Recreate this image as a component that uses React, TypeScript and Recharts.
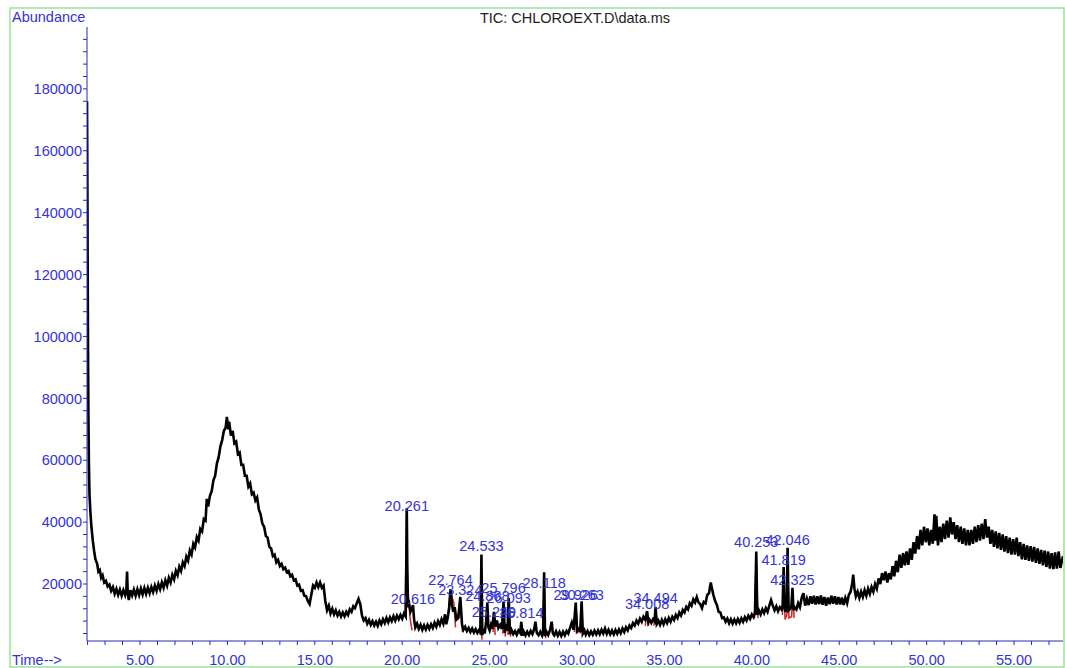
import React from "react";
import { ComposedChart, Line, Scatter, XAxis, YAxis } from "recharts";

// Total ion chromatogram trace: [retention time (min), abundance]
const tracePoints: [number, number][] = [
  [1.97, 176000], [1.99, 150000], [2.01, 118000], [2.03, 92000], [2.05, 74000], [2.08, 58000],
  [2.11, 49000], [2.16, 43500], [2.22, 38500], [2.3, 34000], [2.38, 30500], [2.45, 28000],
  [2.55, 26500], [2.62, 24000], [2.7, 24500], [2.78, 22000], [2.86, 22800], [2.95, 20500],
  [3.05, 21000], [3.15, 19200], [3.25, 19800], [3.35, 17800], [3.45, 19000], [3.55, 16800],
  [3.65, 18400], [3.75, 16500], [3.85, 18200], [3.95, 16200], [4.05, 18000], [4.15, 16400],
  [4.22, 18200], [4.26, 24000], [4.3, 17000], [4.36, 14800], [4.45, 18000], [4.55, 16300],
  [4.65, 18200], [4.75, 16200], [4.85, 18300], [4.95, 16400], [5.05, 18500], [5.15, 16600],
  [5.25, 18700], [5.35, 16800], [5.45, 18800], [5.55, 17000], [5.65, 19000], [5.75, 17400],
  [5.85, 19500], [5.95, 17800], [6.05, 20000], [6.15, 18300], [6.25, 20500], [6.35, 18800],
  [6.45, 21200], [6.55, 19500], [6.65, 22000], [6.75, 20500], [6.85, 23000], [6.95, 21500],
  [7.05, 24200], [7.15, 22800], [7.25, 25600], [7.35, 24200], [7.45, 27000], [7.55, 25800],
  [7.65, 28800], [7.75, 27500], [7.85, 30800], [7.95, 29500], [8.05, 33000], [8.15, 31800],
  [8.25, 35200], [8.35, 34000], [8.45, 37800], [8.55, 37000], [8.65, 41000], [8.75, 40500],
  [8.82, 47500], [8.9, 45000], [9.0, 48500], [9.1, 50000], [9.2, 53500], [9.3, 55000],
  [9.4, 59000], [9.5, 61000], [9.6, 64500], [9.7, 66500], [9.8, 69500], [9.9, 70500],
  [9.97, 74000], [10.05, 70000], [10.1, 72500], [10.2, 68000], [10.3, 69500], [10.4, 65500],
  [10.5, 66000], [10.6, 62000], [10.7, 62500], [10.8, 58500], [10.9, 58500], [11.0, 55000],
  [11.1, 55000], [11.2, 51500], [11.3, 52500], [11.4, 49000], [11.5, 49500], [11.6, 47000],
  [11.7, 48000], [11.8, 44000], [11.9, 42500], [12.0, 39500], [12.1, 38500], [12.2, 35500],
  [12.3, 35000], [12.4, 32000], [12.5, 31500], [12.6, 29000], [12.7, 29500], [12.8, 27000],
  [12.9, 27800], [13.0, 25800], [13.1, 26500], [13.2, 24800], [13.3, 25300], [13.4, 23800],
  [13.5, 24200], [13.6, 22500], [13.7, 23000], [13.8, 21200], [13.9, 21500], [14.0, 19500],
  [14.1, 19800], [14.2, 17800], [14.3, 18000], [14.4, 16200], [14.5, 16000], [14.6, 14500],
  [14.7, 13500], [14.8, 16500], [14.9, 19500], [15.0, 18800], [15.1, 20500], [15.2, 19000],
  [15.3, 20500], [15.4, 18800], [15.5, 19500], [15.6, 14500], [15.7, 11500], [15.8, 13000],
  [15.9, 10500], [16.0, 12000], [16.1, 10200], [16.2, 11500], [16.3, 9800], [16.4, 11000],
  [16.5, 9500], [16.6, 10800], [16.7, 9600], [16.8, 11000], [16.9, 10000], [17.0, 11800],
  [17.1, 11000], [17.2, 12800], [17.3, 12200], [17.4, 13800], [17.5, 15200], [17.6, 13500],
  [17.7, 9800], [17.8, 8200], [17.9, 9000], [18.0, 7200], [18.1, 8400], [18.2, 6800],
  [18.3, 8000], [18.4, 6600], [18.5, 7800], [18.6, 6500], [18.7, 8200], [18.8, 7000],
  [18.9, 8600], [19.0, 7400], [19.1, 9000], [19.2, 7600], [19.3, 9200], [19.4, 8000],
  [19.5, 9600], [19.6, 8200], [19.7, 9800], [19.8, 8600], [19.9, 10000], [20.0, 8800],
  [20.1, 10500], [20.2, 9500], [20.24, 30000], [20.261, 44500], [20.29, 26000], [20.33, 12500],
  [20.4, 13500], [20.47, 11000], [20.55, 12000], [20.616, 13200], [20.68, 8500], [20.75, 6000],
  [20.85, 7200], [20.95, 5500], [21.05, 6800], [21.15, 5200], [21.25, 6600], [21.35, 5300],
  [21.45, 6800], [21.55, 5500], [21.65, 7000], [21.75, 5800], [21.85, 7500], [21.95, 6200],
  [22.05, 8000], [22.15, 6800], [22.25, 8600], [22.35, 7200], [22.45, 10200], [22.52, 7000],
  [22.6, 9000], [22.68, 12000], [22.764, 18200], [22.84, 13500], [22.92, 11000], [23.0, 12500],
  [23.1, 8500], [23.2, 9000], [23.324, 15800], [23.42, 7000], [23.5, 5200], [23.6, 6200],
  [23.7, 4800], [23.8, 5800], [23.9, 4500], [24.0, 5600], [24.1, 4300], [24.2, 5400],
  [24.3, 4200], [24.4, 5200], [24.47, 4500], [24.533, 29500], [24.58, 3500], [24.65, 5500],
  [24.72, 4000], [24.8, 8000], [24.868, 14000], [24.93, 6000], [25.0, 5000], [25.08, 6800],
  [25.15, 5500], [25.249, 11000], [25.33, 6200], [25.42, 8200], [25.5, 5800], [25.6, 6800],
  [25.7, 5500], [25.796, 14300], [25.86, 4200], [25.95, 6000], [26.02, 5000], [26.093, 15500],
  [26.16, 3800], [26.25, 5200], [26.35, 3800], [26.45, 4800], [26.55, 3600], [26.65, 5000],
  [26.75, 4200], [26.814, 7800], [26.88, 3300], [26.95, 4600], [27.05, 3400], [27.15, 4600],
  [27.25, 3500], [27.35, 4800], [27.45, 3800], [27.55, 5500], [27.62, 7800], [27.7, 4200],
  [27.8, 3500], [27.9, 4600], [28.0, 3400], [28.06, 4800], [28.118, 23800], [28.17, 3200],
  [28.25, 4600], [28.35, 3500], [28.45, 5000], [28.55, 7800], [28.62, 4000], [28.7, 3400],
  [28.8, 4700], [28.9, 3300], [29.0, 4500], [29.1, 3200], [29.2, 4600], [29.3, 3400],
  [29.4, 4800], [29.5, 4000], [29.6, 5800], [29.7, 7500], [29.8, 5200], [29.926, 14000],
  [30.0, 4800], [30.1, 5500], [30.18, 4500], [30.263, 14400], [30.33, 4000], [30.42, 5000],
  [30.5, 3600], [30.6, 4800], [30.7, 3500], [30.8, 4700], [30.9, 3600], [31.0, 4900],
  [31.1, 3700], [31.2, 5000], [31.3, 3800], [31.4, 5200], [31.5, 4000], [31.6, 5600],
  [31.7, 3900], [31.8, 5200], [31.9, 3800], [32.0, 5000], [32.1, 3700], [32.2, 5100],
  [32.3, 3900], [32.4, 5300], [32.5, 4100], [32.6, 5600], [32.7, 4500], [32.8, 6000],
  [32.9, 5000], [33.0, 6600], [33.1, 5800], [33.2, 7400], [33.3, 6600], [33.4, 8200],
  [33.5, 7200], [33.6, 8800], [33.7, 7800], [33.8, 9400], [33.9, 8500], [34.008, 11200],
  [34.08, 7600], [34.15, 8400], [34.25, 7400], [34.35, 8600], [34.43, 8000], [34.494, 12500],
  [34.56, 7200], [34.65, 8200], [34.75, 6800], [34.85, 8400], [34.95, 7000], [35.05, 8600],
  [35.15, 7400], [35.25, 9000], [35.35, 7800], [35.45, 9400], [35.55, 8400], [35.65, 10000],
  [35.75, 9000], [35.85, 10800], [35.95, 9800], [36.05, 11600], [36.15, 10800], [36.25, 12600],
  [36.35, 11800], [36.45, 13800], [36.55, 13000], [36.65, 15000], [36.75, 14000], [36.85, 15800],
  [36.95, 14000], [37.05, 13500], [37.15, 12200], [37.25, 14200], [37.35, 13800], [37.45, 16500],
  [37.55, 17000], [37.65, 20500], [37.72, 18500], [37.8, 16500], [37.9, 14500], [38.0, 13200],
  [38.1, 11000], [38.2, 10800], [38.3, 9000], [38.4, 9200], [38.5, 7800], [38.6, 8800],
  [38.7, 7300], [38.8, 8600], [38.9, 7200], [39.0, 8500], [39.1, 7300], [39.2, 8700],
  [39.3, 7500], [39.4, 8900], [39.5, 7800], [39.6, 9300], [39.7, 8200], [39.8, 9700],
  [39.9, 8700], [40.0, 10200], [40.1, 9300], [40.18, 10800], [40.253, 30500], [40.31, 10000],
  [40.4, 11500], [40.5, 10200], [40.6, 11800], [40.7, 10600], [40.8, 12200], [40.9, 11000],
  [41.0, 13000], [41.1, 14800], [41.2, 13000], [41.3, 11500], [41.4, 12800], [41.5, 11200],
  [41.6, 12500], [41.7, 11800], [41.76, 13000], [41.819, 25500], [41.87, 12000], [41.93, 11000],
  [42.0, 14000], [42.046, 31700], [42.1, 11500], [42.2, 12000], [42.26, 12800], [42.325, 18800],
  [42.38, 11500], [42.45, 12500], [42.55, 11800], [42.65, 13800], [42.75, 12500], [42.85, 15500],
  [42.95, 17000], [43.05, 13000], [43.15, 15200], [43.25, 13200], [43.35, 16000], [43.45, 13600],
  [43.55, 16200], [43.65, 13400], [43.75, 16000], [43.85, 13500], [43.95, 16300], [44.05, 13300],
  [44.15, 15800], [44.25, 13000], [44.35, 15600], [44.45, 13500], [44.55, 16200], [44.65, 13600],
  [44.75, 16000], [44.85, 13400], [44.95, 15800], [45.05, 13400], [45.15, 15600], [45.25, 13200],
  [45.35, 15500], [45.45, 13800], [45.55, 16500], [45.65, 17500], [45.75, 20500], [45.8, 23000],
  [45.87, 18500], [45.95, 16000], [46.05, 17500], [46.15, 15500], [46.25, 17500], [46.35, 15800],
  [46.45, 18000], [46.55, 16200], [46.65, 18500], [46.75, 16800], [46.85, 19000], [46.95, 17500],
  [47.05, 20000], [47.15, 18500], [47.25, 21800], [47.35, 20000], [47.45, 23500], [47.55, 21200],
  [47.65, 24000], [47.75, 20500], [47.85, 23500], [47.95, 21500], [48.05, 25800], [48.15, 22500],
  [48.25, 27500], [48.35, 23800], [48.45, 29500], [48.55, 25200], [48.65, 30000], [48.75, 26000],
  [48.85, 30500], [48.95, 26200], [49.05, 31500], [49.15, 27800], [49.25, 33500], [49.35, 29800],
  [49.45, 35500], [49.55, 31200], [49.65, 37500], [49.75, 32500], [49.85, 38500], [49.95, 33500],
  [50.05, 38000], [50.15, 32500], [50.25, 37500], [50.35, 33000], [50.45, 42500], [50.5, 34000],
  [50.55, 42000], [50.65, 32500], [50.75, 38500], [50.85, 33500], [50.95, 39500], [51.05, 34500],
  [51.15, 40500], [51.25, 35000], [51.35, 41500], [51.45, 36000], [51.55, 40000], [51.65, 34500],
  [51.75, 39000], [51.85, 33500], [51.95, 38500], [52.05, 33000], [52.15, 38000], [52.25, 32500],
  [52.35, 37500], [52.45, 32500], [52.55, 37500], [52.65, 33000], [52.75, 38500], [52.85, 33500],
  [52.95, 39000], [53.05, 34000], [53.15, 39500], [53.25, 34500], [53.35, 41000], [53.45, 35000],
  [53.55, 38500], [53.65, 33000], [53.75, 37500], [53.85, 32000], [53.95, 37000], [54.05, 31500],
  [54.15, 36500], [54.25, 31000], [54.35, 36000], [54.45, 30500], [54.55, 35500], [54.65, 30000],
  [54.75, 35000], [54.85, 29500], [54.95, 34500], [55.05, 29500], [55.15, 35000], [55.25, 29000],
  [55.35, 33500], [55.45, 28000], [55.55, 33000], [55.65, 27800], [55.75, 32500], [55.85, 27500],
  [55.95, 32200], [56.05, 27200], [56.15, 32000], [56.25, 26800], [56.35, 31500], [56.45, 26500],
  [56.55, 31000], [56.65, 26000], [56.75, 30800], [56.85, 25500], [56.95, 30500], [57.05, 25000],
  [57.15, 30000], [57.25, 24800], [57.35, 30200], [57.45, 25000], [57.55, 30500], [57.65, 25200],
  [57.8, 29000],
];

// Integrated peak outlines (red); null separates peaks
const integratedPeaks: [number, number | null][] = [
  [20.17, 10500], [20.245, 44000], [20.3, 20000], [20.45, 9000], [20.56, 5000], [20.6, null],
  [22.62, 9500], [22.74, 18000], [22.95, 14000], [23.05, 6000], [23.1, null],
  [23.25, 9000], [23.32, 15000], [23.45, 4500], [23.5, null],
  [24.45, 3500], [24.52, 25000], [24.56, 2000], [24.6, null],
  [25.2, 4500], [25.25, 10000], [25.32, 3500], [25.4, null],
  [25.75, 4000], [25.8, 13500], [25.9, 3000], [25.95, null],
  [26.05, 3500], [26.09, 14500], [26.2, 3000], [26.25, null],
  [28.05, 3000], [28.12, 22000], [28.2, 2500], [28.25, null],
  [29.85, 4500], [29.93, 13000], [30.05, 4000], [30.1, null],
  [30.2, 4000], [30.26, 13500], [30.35, 3500], [30.4, null],
  [33.9, 6500], [34.0, 10500], [34.1, 6500], [34.2, null],
  [34.4, 6500], [34.49, 11500], [34.6, 6500], [34.7, null],
  [40.15, 9000], [40.25, 29000], [40.35, 9000], [40.4, null],
  [41.75, 10000], [41.82, 24000], [41.9, 8500], [42.0, 10000], [42.05, 30000], [42.12, 9000],
  [42.28, 9500], [42.33, 18000], [42.42, 9000],
];

// Peak labels: retention time, label level (abundance where the text sits), text
const peakTimes = [20.261, 20.616, 22.764, 23.324, 24.533, 24.868, 25.796, 26.093, 25.249, 26.814,
  28.118, 29.926, 30.263, 34.008, 34.494, 40.253, 42.046, 41.819, 42.325];
const peakLabelLevels = [45200, 15100, 21300, 18100, 32300, 16300, 18700, 15500, 10900, 10600,
  20300, 16400, 16400, 13500, 15500, 33600, 34200, 27800, 21300];
const peakLabelTexts = ["20.261", "20.616", "22.764", "23.324", "24.533", "24.868", "25.796", "26.093",
  "25.249", "26.814", "28.118", "29.926", "30.263", "34.008", "34.494", "40.253", "42.046", "41.819", "42.325"];

const xTicks = [2, 3, 4, 5, 6, 7, 8, 9, 10, 11, 12, 13, 14, 15, 16, 17, 18, 19, 20, 21, 22, 23, 24, 25, 26,
  27, 28, 29, 30, 31, 32, 33, 34, 35, 36, 37, 38, 39, 40, 41, 42, 43, 44, 45, 46, 47, 48, 49, 50, 51, 52,
  53, 54, 55, 56, 57];
const yTicks = [4000, 8000, 12000, 16000, 20000, 24000, 28000, 32000, 36000, 40000, 44000, 48000, 52000,
  56000, 60000, 64000, 68000, 72000, 76000, 80000, 84000, 88000, 92000, 96000, 100000, 104000, 108000,
  112000, 116000, 120000, 124000, 128000, 132000, 136000, 140000, 144000, 148000, 152000, 156000, 160000,
  164000, 168000, 172000, 176000, 180000, 184000, 188000, 192000, 196000];

const traceData = tracePoints.map(([t, v]) => ({ t, v }));
const redData = integratedPeaks.map(([t, r]) => ({ t, r }));
const labelData = peakTimes.map((t, i) => ({ t, level: peakLabelLevels[i], name: peakLabelTexts[i] }));

const FONT = "'Liberation Sans', Arial, Helvetica, sans-serif";
const BLUE_TEXT = "#3434d4";
const BLUE_AXIS = "#2a2ab8";

const XTick = (props: any) => {
  const { x, y, payload } = props;
  const v = payload.value;
  if (Math.round(v) % 5 !== 0) return null;
  return (
    <text x={x} y={y + 18} textAnchor="middle" fontFamily={FONT} fontSize={14.5} fill={BLUE_TEXT}>
      {v.toFixed(2)}
    </text>
  );
};

const YTick = (props: any) => {
  const { x, y, payload } = props;
  const v = payload.value;
  if (v % 20000 !== 0) return null;
  return (
    <text x={x} y={y} dy="0.36em" textAnchor="end" fontFamily={FONT} fontSize={14.5} fill={BLUE_TEXT}>
      {String(v)}
    </text>
  );
};

const LabelShape = (props: any) => {
  const { cx, cy, payload } = props;
  return (
    <text x={cx} y={cy} dy="0.36em" textAnchor="middle" fontFamily={FONT} fontSize={14.5} fill={BLUE_TEXT}>
      {payload.name}
    </text>
  );
};

export default function App() {
  return (
    <div style={{ position: "absolute", left: 0, top: 0, width: 1065, height: 668, background: "#fff" }}>
      <ComposedChart
        width={1065}
        height={668}
        data={traceData}
        margin={{ top: 27, right: 2, bottom: 0, left: 0 }}
      >
        <XAxis
          dataKey="t"
          type="number"
          domain={[1.968, 57.8]}
          allowDataOverflow
          ticks={xTicks}
          interval={0}
          height={27}
          tickSize={4}
          tickMargin={2}
          stroke={BLUE_AXIS}
          tick={<XTick />}
        />
        <YAxis
          type="number"
          domain={[1580, 200000]}
          allowDataOverflow
          ticks={yTicks}
          interval={0}
          width={87}
          tickSize={4}
          tickMargin={1}
          stroke={BLUE_AXIS}
          tick={<YTick />}
        />
        <Line
          data={redData}
          dataKey="r"
          stroke="#d42020"
          strokeWidth={1.5}
          dot={false}
          connectNulls={false}
          isAnimationActive={false}
        />
        <Line
          dataKey="v"
          stroke="#000"
          strokeWidth={2.6}
          strokeLinejoin="miter"
          dot={false}
          type="linear"
          isAnimationActive={false}
        />
        <Scatter data={labelData} dataKey="level" shape={<LabelShape />} isAnimationActive={false} />
      </ComposedChart>
      <svg
        width={1065}
        height={668}
        style={{ position: "absolute", left: 0, top: 0, pointerEvents: "none" }}
      >
        <rect x={10} y={8} width={1054} height={659} fill="none" stroke="#9ae39a" strokeWidth={1.5} />
        <text x={12} y={22} fontFamily={FONT} fontSize={14.5} fill={BLUE_TEXT}>Abundance</text>
        <text x={575} y={23} textAnchor="middle" fontFamily={FONT} fontSize={14.5} fill="#222">
          TIC: CHLOROEXT.D\data.ms
        </text>
        <text x={12} y={665} fontFamily={FONT} fontSize={14.5} fill={BLUE_TEXT}>Time--&gt;</text>
      </svg>
    </div>
  );
}
